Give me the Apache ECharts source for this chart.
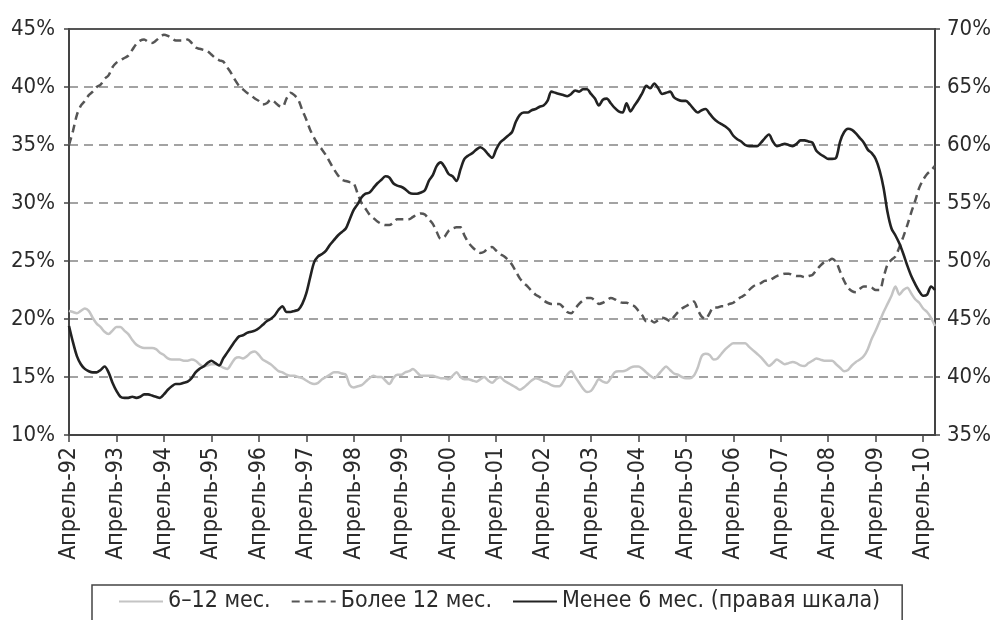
<!DOCTYPE html>
<html>
<head>
<meta charset="utf-8">
<script src="https://cdn.jsdelivr.net/npm/echarts@6/dist/echarts.min.js"></script>
<style>
  html, body { margin: 0; padding: 0; background: #fff; }
  #chart { width: 1001px; height: 620px; }
</style>
</head>
<body>
<div id="chart"></div>
<script>
// monthly, April 1992 .. July 2010
const monthNames = ['Январь','Февраль','Март','Апрель','Май','Июнь','Июль','Август','Сентябрь','Октябрь','Ноябрь','Декабрь'];
const startYear = 1992, startMonth = 3;

// 6–12 мес., left axis, %
const mid = [
  20.7,20.6,20.5,20.7,20.9,20.7,20.1,19.6,19.3,18.9,18.7,19.0,
  19.3,19.3,19.0,18.7,18.2,17.8,17.6,17.5,17.5,17.5,17.4,17.1,
  16.9,16.6,16.5,16.5,16.5,16.4,16.4,16.5,16.4,16.1,15.9,16.0,
  16.1,16.1,16.0,15.8,15.7,16.1,16.6,16.7,16.6,16.8,17.1,17.2,
  16.9,16.5,16.3,16.1,15.8,15.5,15.4,15.2,15.1,15.1,15.0,14.9,
  14.7,14.5,14.4,14.5,14.8,15.0,15.2,15.4,15.4,15.3,15.2,14.3,
  14.1,14.2,14.3,14.6,14.9,15.1,15.0,15.0,14.7,14.4,14.9,15.2,
  15.2,15.4,15.5,15.7,15.4,15.1,15.1,15.1,15.1,15.0,14.9,14.9,
  14.8,15.1,15.4,15.0,14.8,14.8,14.7,14.6,14.8,15.0,14.7,14.5,
  14.8,15.0,14.7,14.5,14.3,14.1,13.9,14.1,14.4,14.7,14.9,14.8,
  14.6,14.5,14.3,14.2,14.2,14.6,15.2,15.5,15.0,14.5,14.0,13.7,
  13.8,14.3,14.8,14.6,14.5,14.9,15.4,15.5,15.5,15.6,15.8,15.9,
  15.9,15.7,15.4,15.1,14.9,15.2,15.6,15.9,15.6,15.3,15.2,15.0,
  14.9,14.9,15.1,15.8,16.8,17.0,16.9,16.5,16.6,17.0,17.4,17.7,
  17.9,17.9,17.9,17.9,17.6,17.3,17.0,16.7,16.3,15.95,16.2,16.5,
  16.3,16.1,16.2,16.3,16.2,16.0,15.95,16.2,16.4,16.6,16.5,16.4,
  16.4,16.4,16.1,15.8,15.5,15.6,16.0,16.3,16.5,16.8,17.4,18.3,
  19.0,19.8,20.6,21.3,22.0,22.8,22.1,22.5,22.7,22.2,21.7,21.4,
  20.9,20.6,20.1,19.4
];

// Более 12 мес., left axis, %
const long = [
  35.0,36.2,37.6,38.4,38.8,39.3,39.6,40.0,40.2,40.7,41.0,41.7,
  42.1,42.3,42.5,42.7,43.2,43.7,44.0,44.1,43.9,43.8,44.0,44.3,
  44.5,44.4,44.2,44.0,44.0,44.0,44.1,43.8,43.4,43.3,43.2,43.1,
  42.8,42.5,42.3,42.2,41.7,41.2,40.6,40.1,39.8,39.5,39.3,39.0,
  38.8,38.5,38.6,38.9,38.7,38.4,38.3,39.0,39.5,39.3,38.9,38.0,
  37.2,36.3,35.6,35.0,34.6,34.1,33.5,32.9,32.4,32.0,31.9,31.8,
  31.7,30.8,30.0,29.5,29.0,28.7,28.4,28.2,28.1,28.1,28.3,28.6,
  28.6,28.6,28.6,28.8,29.0,29.1,29.0,28.6,28.2,27.5,26.9,27.1,
  27.6,27.8,27.9,27.9,27.2,26.6,26.2,25.9,25.7,25.8,26.1,26.2,
  25.9,25.6,25.4,25.1,24.7,24.1,23.5,23.1,22.8,22.4,22.1,21.9,
  21.6,21.4,21.3,21.3,21.3,21.0,20.6,20.5,20.9,21.3,21.6,21.8,
  21.8,21.6,21.3,21.4,21.6,21.8,21.7,21.5,21.4,21.4,21.2,21.1,
  20.7,20.3,19.8,19.9,19.7,19.9,20.1,20.0,19.8,20.2,20.6,20.9,
  21.1,21.3,21.5,20.8,20.2,20.0,20.5,21.0,21.0,21.1,21.1,21.3,
  21.4,21.7,21.9,22.1,22.5,22.8,23.0,23.1,23.3,23.3,23.5,23.7,
  23.8,23.9,23.9,23.8,23.7,23.7,23.6,23.7,23.8,24.2,24.6,24.9,
  25.0,25.2,24.9,24.1,23.3,22.7,22.4,22.3,22.6,22.8,22.8,22.7,
  22.5,22.5,23.6,24.7,25.1,25.4,26.2,27.1,28.1,29.2,30.2,31.3,
  32.0,32.5,32.8,33.2
];

// Менее 6 мес., right axis, %
const short = [
  44.4,43.0,41.8,41.1,40.7,40.5,40.4,40.4,40.6,40.9,40.4,39.5,
  38.8,38.3,38.2,38.2,38.3,38.2,38.3,38.5,38.5,38.4,38.3,38.2,
  38.5,38.9,39.2,39.4,39.4,39.5,39.6,39.9,40.4,40.7,40.9,41.2,
  41.4,41.2,41.0,41.6,42.1,42.6,43.1,43.5,43.6,43.8,43.9,44.0,
  44.2,44.5,44.8,45.0,45.3,45.8,46.1,45.6,45.6,45.7,45.8,46.3,
  47.2,48.6,49.9,50.4,50.6,50.9,51.4,51.8,52.2,52.5,52.8,53.6,
  54.4,54.9,55.5,55.8,55.9,56.3,56.7,57.0,57.3,57.2,56.7,56.5,
  56.4,56.2,55.9,55.8,55.8,55.9,56.1,56.9,57.4,58.2,58.5,58.1,
  57.5,57.3,56.9,57.9,58.8,59.1,59.3,59.6,59.8,59.6,59.2,58.9,
  59.6,60.2,60.5,60.8,61.1,62.0,62.6,62.8,62.8,63.0,63.1,63.3,
  63.4,63.8,64.6,64.5,64.4,64.3,64.2,64.4,64.7,64.6,64.8,64.8,
  64.4,64.0,63.4,63.9,64.0,63.6,63.2,62.9,62.8,63.6,62.9,63.4,
  63.9,64.5,65.1,64.9,65.3,64.9,64.4,64.5,64.6,64.1,63.9,63.8,
  63.8,63.5,63.1,62.8,63.0,63.1,62.7,62.3,62.0,61.8,61.6,61.3,
  60.8,60.5,60.3,60.0,59.9,59.9,59.9,60.2,60.6,60.9,60.3,59.9,
  60.0,60.1,60.0,59.9,60.1,60.4,60.4,60.3,60.2,59.5,59.2,59.0,
  58.8,58.8,58.9,60.3,61.1,61.4,61.3,61.0,60.6,60.2,59.6,59.3,
  58.8,57.8,56.3,54.2,52.8,52.2,51.5,50.6,49.6,48.7,48.0,47.4,
  47.0,47.1,47.8,47.5
];

const months = mid.map((_, i) => {
  const k = startMonth + i;
  const yy = String((startYear + Math.floor(k / 12)) % 100).padStart(2, '0');
  return monthNames[k % 12] + '-' + yy;
});

const font = "'DejaVu Sans Condensed', 'DejaVu Sans', sans-serif";
const ink = '#2b2b2b';
const everyYear = (idx) => idx % 12 === 0;

const chart = echarts.init(document.getElementById('chart'));
chart.setOption({
  backgroundColor: '#fff',
  animation: false,
  grid: { left: 69, right: 66, top: 29, bottom: 185, show: true, borderColor: '#555', borderWidth: 2 },
  legend: {
    left: 92, top: 585,
    padding: [5, 22, 14, 26],
    borderColor: '#444', borderWidth: 1.5,
    itemWidth: 44, itemHeight: 14, itemGap: 20,
    itemStyle: { opacity: 0 },
    textStyle: { fontFamily: font, fontSize: 23, color: ink },
    data: ['6–12 мес.', 'Более 12 мес.', 'Менее 6 мес. (правая шкала)']
  },
  xAxis: {
    type: 'category',
    data: months,
    boundaryGap: false,
    axisLine: { lineStyle: { color: '#444', width: 2 } },
    axisTick: { interval: everyYear, length: 7, lineStyle: { color: '#444', width: 1.5 } },
    axisLabel: {
      interval: everyYear, rotate: 90, margin: 12,
      fontFamily: font, fontSize: 23, color: ink
    },
    splitLine: { show: false }
  },
  yAxis: [
    {
      type: 'value', min: 10, max: 45, interval: 5,
      axisLine: { show: true, lineStyle: { color: '#444', width: 2 } },
      axisTick: { show: true, length: 5, lineStyle: { color: '#444', width: 1.5 } },
      axisLabel: { formatter: '{value}%', margin: 14, fontFamily: font, fontSize: 22, color: ink },
      splitLine: {
        show: true, showMinLine: false, showMaxLine: false,
        lineStyle: { color: '#a3a3a3', width: 2, type: [9, 6] }
      }
    },
    {
      type: 'value', min: 35, max: 70, interval: 5, position: 'right',
      axisLine: { show: true, lineStyle: { color: '#444', width: 2 } },
      axisTick: { show: true, length: 5, lineStyle: { color: '#444', width: 1.5 } },
      axisLabel: { formatter: '{value}%', margin: 12, fontFamily: font, fontSize: 22, color: ink },
      splitLine: { show: false }
    }
  ],
  series: [
    {
      name: '6–12 мес.', type: 'line', data: mid, yAxisIndex: 0,
      symbol: 'none', smooth: 0.3,
      lineStyle: { color: '#c4c4c4', width: 2.5 }, itemStyle: { color: '#c4c4c4' }
    },
    {
      name: 'Более 12 мес.', type: 'line', data: long, yAxisIndex: 0,
      symbol: 'none', smooth: 0.3,
      lineStyle: { color: '#555', width: 2.5, type: [8, 5] }, itemStyle: { color: '#555' }
    },
    {
      name: 'Менее 6 мес. (правая шкала)', type: 'line', data: short, yAxisIndex: 1,
      symbol: 'none', smooth: 0.3,
      lineStyle: { color: '#222', width: 2.6 }, itemStyle: { color: '#222' }
    }
  ]
});
</script>
</body>
</html>
